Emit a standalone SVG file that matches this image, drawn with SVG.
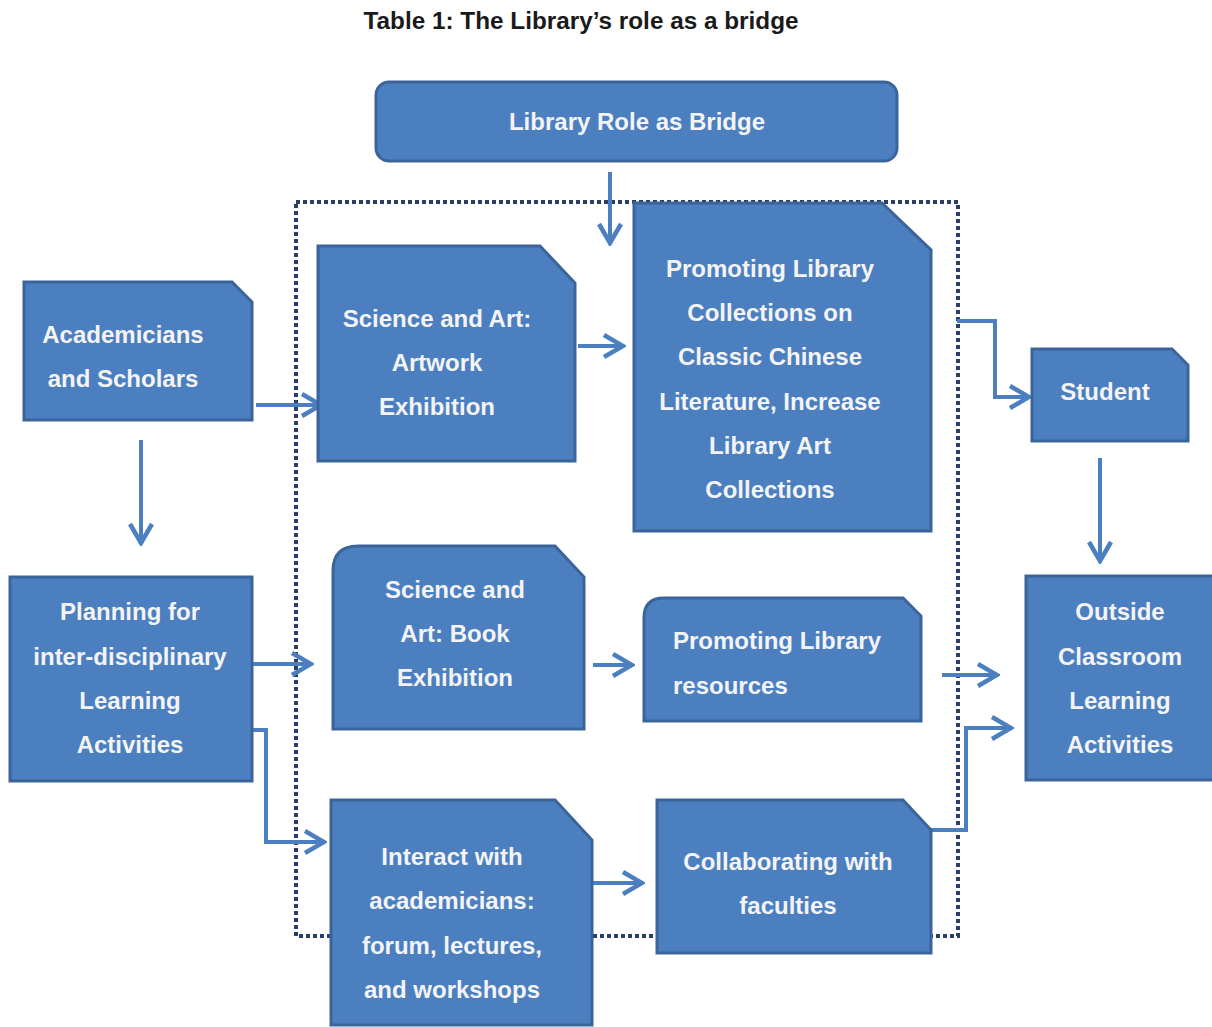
<svg xmlns="http://www.w3.org/2000/svg" width="1212" height="1027" viewBox="0 0 1212 1027">
<style>
.box{fill:#4b7fc0;stroke:#3a649a;stroke-width:3;stroke-linejoin:miter}
.t{font-family:"Liberation Sans",Arial,sans-serif;font-weight:bold;font-size:24px;fill:#f4f4f4;text-anchor:middle}
.c{fill:none;stroke:#4b7fc0;stroke-width:4;stroke-linejoin:miter}
.title{font-family:"Liberation Sans",Arial,sans-serif;font-weight:bold;font-size:23px;fill:#1a1a1a;text-anchor:middle}
</style>
<defs>
<marker id="arr" viewBox="0 0 24 26" refX="21" refY="13" markerWidth="24" markerHeight="26" markerUnits="userSpaceOnUse" orient="auto">
<path d="M2,2 L21,13 L2,24" fill="none" stroke="#4b7fc0" stroke-width="4.5"/>
</marker>
</defs>
<rect width="1212" height="1027" fill="#ffffff"/>
<text class="title" x="581" y="29" textLength="435" lengthAdjust="spacingAndGlyphs">Table 1: The Library’s role as a bridge</text>

<rect id="bridge-region" x="296" y="202" width="662" height="734" fill="none" stroke="#2b3d6b" stroke-width="4" stroke-dasharray="4 3"/>

<g id="connectors">
<path class="c" d="M610,172 V243" marker-end="url(#arr)"/>
<path class="c" d="M256,405 H321" marker-end="url(#arr)"/>
<path class="c" d="M141,440 V543" marker-end="url(#arr)"/>
<path class="c" d="M578,346 H623" marker-end="url(#arr)"/>
<path class="c" d="M957,321 H995 V397 H1029" marker-end="url(#arr)"/>
<path class="c" d="M1100,458 V561" marker-end="url(#arr)"/>
<path class="c" d="M252,664 H311" marker-end="url(#arr)"/>
<path class="c" d="M252,730 H266 V842 H324" marker-end="url(#arr)"/>
<path class="c" d="M593,665 H632" marker-end="url(#arr)"/>
<path class="c" d="M942,675 H997" marker-end="url(#arr)"/>
<path class="c" d="M931,830 H966 V728 H1011" marker-end="url(#arr)"/>
<path class="c" d="M592,883 H642" marker-end="url(#arr)"/>
</g>

<g id="n-bridge">
<rect class="box" x="376" y="82" width="521" height="79" rx="13"/>
<text class="t" x="637" y="130">Library Role as Bridge</text>
</g>

<g id="n-academicians">
<path class="box" d="M24,282 H232 L252,302 V420 H24 Z"/>
<text class="t" x="123" y="343">Academicians</text>
<text class="t" x="123" y="387">and Scholars</text>
</g>

<g id="n-artwork">
<path class="box" d="M318,246 H540 L575,283 V461 H318 Z"/>
<text class="t" x="437" y="327">Science and Art:</text>
<text class="t" x="437" y="371">Artwork</text>
<text class="t" x="437" y="415">Exhibition</text>
</g>

<g id="n-collections">
<path class="box" d="M634,203 H882 L931,250 V531 H634 Z"/>
<text class="t" x="770" y="277">Promoting Library</text>
<text class="t" x="770" y="321">Collections on</text>
<text class="t" x="770" y="365">Classic Chinese</text>
<text class="t" x="770" y="410">Literature, Increase</text>
<text class="t" x="770" y="454">Library Art</text>
<text class="t" x="770" y="498">Collections</text>
</g>

<g id="n-student">
<path class="box" d="M1032,349 H1172 L1188,365 V441 H1032 Z"/>
<text class="t" x="1105" y="400">Student</text>
</g>

<g id="n-planning">
<rect class="box" x="10" y="577" width="242" height="204"/>
<text class="t" x="130" y="620">Planning for</text>
<text class="t" x="130" y="665">inter-disciplinary</text>
<text class="t" x="130" y="709">Learning</text>
<text class="t" x="130" y="753">Activities</text>
</g>

<g id="n-book">
<path class="box" d="M333,571 Q333,546 358,546 H555 L584,577 V729 H333 Z"/>
<text class="t" x="455" y="598">Science and</text>
<text class="t" x="455" y="642">Art: Book</text>
<text class="t" x="455" y="686">Exhibition</text>
</g>

<g id="n-resources">
<path class="box" d="M644,618 Q644,598 664,598 H903 L921,616 V721 H644 Z"/>
<text class="t" x="673" y="649" style="text-anchor:start">Promoting Library</text>
<text class="t" x="673" y="694" style="text-anchor:start">resources</text>
</g>

<g id="n-interact">
<path class="box" d="M331,800 H555 L592,840 V1025 H331 Z"/>
<text class="t" x="452" y="865">Interact with</text>
<text class="t" x="452" y="909">academicians:</text>
<text class="t" x="452" y="954">forum, lectures,</text>
<text class="t" x="452" y="998">and workshops</text>
</g>

<g id="n-collaborating">
<path class="box" d="M657,800 H903 L931,830 V953 H657 Z"/>
<text class="t" x="788" y="870">Collaborating with</text>
<text class="t" x="788" y="914">faculties</text>
</g>

<g id="n-outside">
<rect class="box" x="1026" y="576" width="190" height="204"/>
<text class="t" x="1120" y="620">Outside</text>
<text class="t" x="1120" y="665">Classroom</text>
<text class="t" x="1120" y="709">Learning</text>
<text class="t" x="1120" y="753">Activities</text>
</g>
</svg>
